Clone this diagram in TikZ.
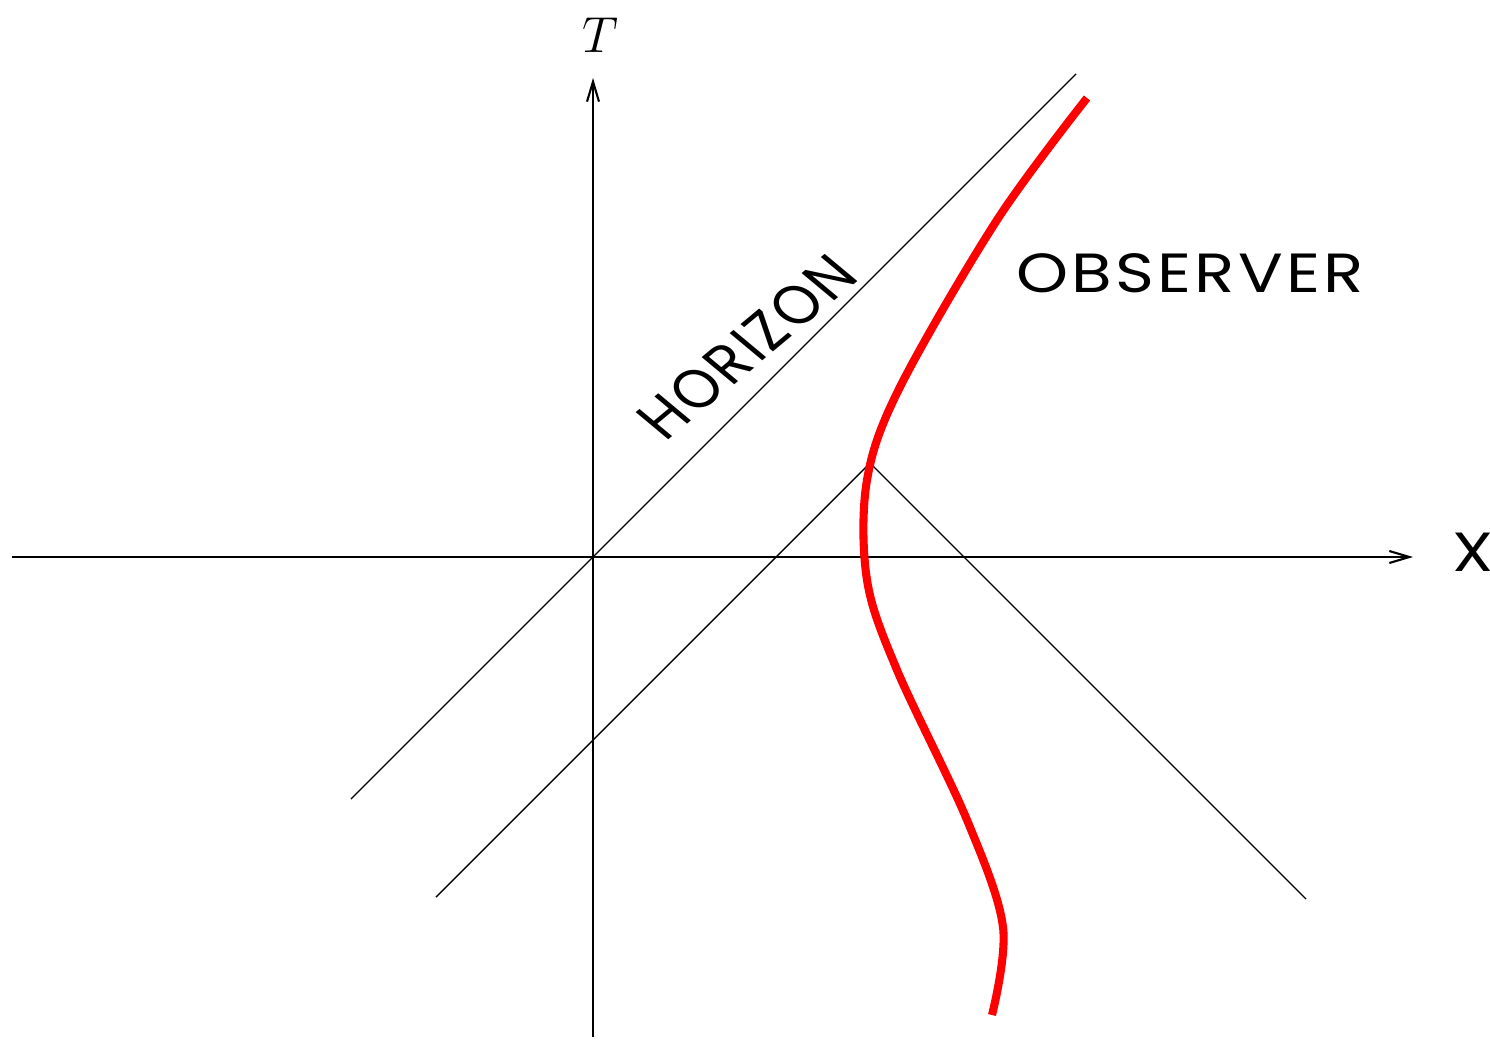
\documentclass[tikz,border=0pt]{standalone}
\usepackage{fontspec}
\newfontfamily\labelfont[LetterSpace=5]{Poppins}
\usepackage{tikz}
\usetikzlibrary{arrows.meta,positioning,calc}

\begin{document}
\begin{tikzpicture}[
  axis/.style={line width=0.6pt},
  cone/.style={line width=0.4pt},
  worldline/.style={red, line width=2.3pt},
  lbl/.style={font=\labelfont\fontsize{15.7}{18}\selectfont, inner sep=0pt, xscale=1.2},
  >={Straight Barb[length=2mm, width=1.2mm]}
]
\useasboundingbox (-5.93,-4.82) rectangle (8.97,5.57);

% Coordinates
\coordinate (O) at (0,0);
\coordinate (xl) at (-5.81,0);
\coordinate (xr) at (8.20,0);
\coordinate (tb) at (0,-4.80);
\coordinate (tt) at (0,4.79);
\coordinate (hl) at (-2.42,-2.42);
\coordinate (hr) at (4.83,4.83);
\coordinate (E) at (2.77,0.94);
\coordinate (el) at (-1.57,-3.40);
\coordinate (er) at (7.13,-3.42);

% Nodes
\node[font=\fontsize{14.4}{16}\selectfont, inner sep=0pt] (T) at (0.07,5.22) {$T$};
\node[lbl] (X) at (8.80,0.05) {X};
\node[lbl] (obs) at (5.97,2.84) {OBSERVER};
\node[lbl, rotate=45, xscale=0.9] (hor) at (1.54,2.10) {HORIZON};

% Edges
\draw[axis,->] (xl) -- (xr);
\draw[axis,->] (tb) -- (tt);
\draw[cone] (hl) -- (hr);
\draw[cone] (el) -- (E) -- (er);

% Observer
\draw[worldline] plot[smooth, tension=0.55] coordinates {
  (4.94,4.59) (4.04,3.37) (3.07,1.70) (2.74,0.77) (2.74,-0.23)
  (3.04,-1.13) (3.74,-2.63) (4.10,-3.70) (3.99,-4.58)};

\end{tikzpicture}
\end{document}
